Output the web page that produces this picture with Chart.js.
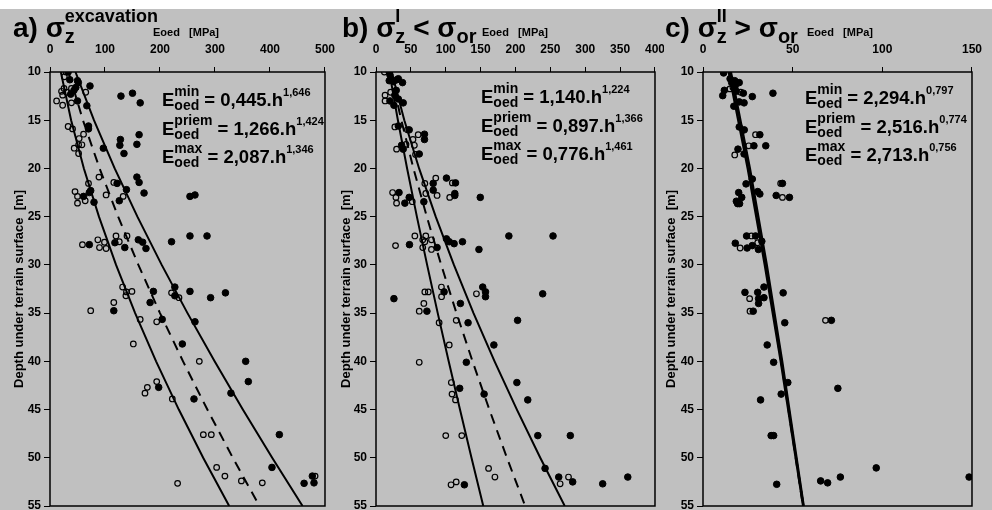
<!DOCTYPE html>
<html>
<head>
<meta charset="utf-8">
<script src="https://cdn.jsdelivr.net/npm/chart.js@4.4.1/dist/chart.umd.min.js"></script>
<style>
  html, body { margin: 0; padding: 0; background: #fff; }
  #page { position: absolute; left: 0; top: 9px; width: 992px; height: 501px; background: #c0c0c0; overflow: hidden; }
  #page canvas { position: absolute; top: 0; }
  #cA { left: 0; }
  #cB { left: 330px; }
  #cC { left: 664px; }
</style>
</head>
<body>
<div id="page">
  <canvas id="cA" width="345" height="520"></canvas>
  <canvas id="cB" width="345" height="520"></canvas>
  <canvas id="cC" width="328" height="520"></canvas>
</div>
<script>
const FONT = "'Liberation Sans', Arial, sans-serif";
Chart.defaults.font.family = FONT;
Chart.defaults.font.weight = 'bold';
Chart.defaults.color = '#000';

// --- Data: [Eoed (MPa), depth (m)] ---
// panel a) sigma_z excavation
const aOpen = [[29,10.0],[26,10.5],[25.5,11.7],[21,12.0],[23,12.4],[30,12.1],[39,11.7],
  [12,13.0],[23,13.45],[39,13.2],[65,12.1],
  [33,15.65],[41,15.9],[61,16.45],[53,16.9],[58,17.55],[52,17.55],[44,17.9],[52,18.45],
  [70,21.55],[89,20.9],[116,21.45],[45.5,22.4],[50,22.9],[50,23.6],[64,23.35],[102,22.75],[133,22.9],
  [87,27.4],[90,28.2],[99,27.65],[102,28.3],[59,27.9],[120,27.0],[126,27.6],[140,27.0],
  [132,32.3],[139,32.8],[138,33.2],[149,32.75],[116,33.9],[74,34.75],[164,35.65],[194,35.9],[221,32.9],[234.5,33.4],
  [151.5,38.2],[271.5,40.0],[194,42.1],[177,42.7],[172.7,43.3],[222.4,43.9],
  [278.8,47.6],[293.3,47.6],[303,51.0],[318,51.9],[348,52.4],[386,52.6],[232,52.65],[482,51.9]];
const aFilled = [[33,10.0],[36,10.8],[50,10.9],[51.5,11.1],[43.6,11.9],[47,11.6],[37.6,12.3],[72.7,11.45],
  [50,13.0],[67,13.5],[129,12.5],[150,12.2],[164,13.2],
  [70,15.6],[70,15.9],[162,16.5],[128,17.0],[127,17.6],[158,17.5],[97,17.9],[134.5,18.45],
  [122,21.55],[158,20.9],[162,21.45],[61,22.9],[71.5,22.5],[74,22.3],[80,23.5],[126,23.35],[139,22.2],[171,22.55],[254.5,22.9],[263.6,22.75],
  [71.5,27.9],[118,27.7],[136,28.2],[160.6,27.4],[168.5,27.65],[174.5,28.3],[221,27.6],[254.5,27.0],[285.5,27.0],
  [188,32.75],[116,34.75],[182,33.9],[204,35.65],[227,32.3],[227,33.2],[254.5,32.75],[292,33.4],[319,32.9],[263.6,35.9],
  [240.6,38.2],[355.8,40.0],[360.6,42.1],[197.6,42.7],[261.8,43.9],[329,43.3],
  [417,47.6],[403.6,51.0],[462,52.65],[477,51.9],[480,52.6]];

// panel b) sigma_z I < sigma_or
const bOpen = [[12,10.0],[13,12.4],[13,13.0],[21,12.1],[27,15.7],[45,16.0],[60.5,16.5],[53,17.0],[43,17.5],[29.5,18.0],[55,17.6],[56.7,18.55],
  [85.7,21.0],[109.5,21.5],[70,21.55],[87.6,22.8],[71.4,22.6],[105.7,23.0],[23.8,22.5],[28.6,23.0],[29.5,23.6],[52,23.45],
  [55.7,27.0],[71.4,27.0],[28,28.0],[67,27.4],[70,27.6],[67,28.2],[79.5,27.4],[79.5,28.4],[93.8,32.3],
  [62,34.8],[68.6,34.0],[70,32.8],[75,32.8],[94,33.3],[90.5,36.0],[115,35.75],[105,38.3],[144,33.0],
  [62,40.1],[108,42.2],[109,43.4],[114,44.0],[100,47.7],[123,47.7],[161.4,51.1],[170.5,52.0],[276,52.0],[264,52.7],[107.6,52.8],[115,52.5]];
const bFilled = [[19,10.0],[20,10.3],[21.5,10.7],[19,10.9],[25,11.0],[30,10.8],[32,10.7],[38,11.1],
  [20,13.0],[25.7,13.45],[27,12.4],[29,11.9],[32,12.8],[39,13.2],
  [32,15.6],[47.6,16.0],[69.5,16.45],[69.5,17.0],[36.7,17.6],[39,18.0],[62,18.5],
  [101,21.0],[82,21.55],[114,21.5],[82,22.25],[113,22.6],[113,22.8],[33,22.5],[41.4,23.6],[47.6,23.0],[68.6,23.45],[149.5,23.0],
  [48,27.9],[87.6,28.2],[101,27.3],[105,27.6],[112,27.8],[124,27.6],[147.6,28.4],[190.5,27.0],[253.8,27.0],[153,32.3],
  [25.7,33.5],[73,34.8],[97.6,32.8],[121,34.0],[132,36.0],[157,32.8],[157,33.3],[239,33.0],[203,35.75],[169,38.3],
  [129.5,40.1],[120,42.8],[155,43.4],[202,42.2],[217.6,44.0],[232,47.7],[278.6,47.7],[242.4,51.1],[262,52.0],[282,52.5],[325,52.7],[361,52.0],[126.7,52.8]];

// panel c) sigma_z II > sigma_or
const cOpen = [[16.7,11.6],[15,11.75],[21,12.1],[29.3,16.5],[25.5,17.65],[17.7,18.6],[43.3,21.55],[44.3,23.0],
  [27,27.0],[30.5,27.7],[20.7,28.25],[26,33.5],[26.2,34.8],[68.3,35.75]];
const cFilled = [[11.5,10.1],[15.1,10.7],[16,11.1],[17.7,10.9],[20.2,11.1],[18,11.4],[11,12.45],[11.9,11.9],[18.6,12.0],[22.5,12.2],[27.5,12.55],[39,12.2],[20.2,13.1],[22.9,13.2],[17.2,13.55],
  [20.2,15.7],[23,16.0],[31.7,16.5],[28.4,17.65],[35,17.65],[19.5,18.0],[22.9,18.5],
  [27.5,21.1],[24,21.6],[44.3,21.55],[19.9,22.5],[21.6,23.0],[18.6,23.4],[19.3,23.65],[20.4,23.65],[30.5,22.4],[31.7,22.65],[40.8,22.8],[48.2,23.0],
  [24.3,27.0],[29.3,27.0],[32.8,27.55],[18,27.75],[24.6,28.25],[27.5,28.0],[30.9,28.4],[34,32.3],
  [23.4,32.85],[30.5,32.85],[31,33.5],[31,34.0],[34,33.4],[44.7,32.9],[28,34.8],[45.6,36.0],[71.6,35.75],
  [35.8,38.3],[39.4,40.1],[47.3,42.2],[75.2,42.8],[43.6,43.4],[32.1,44.0],[38,47.7],[39.4,47.7],
  [96.6,51.05],[76.6,52.0],[65.6,52.4],[69.5,52.6],[41.1,52.75],[148.4,52.0]];

// fitted curves, read along depth
const depths = [10, 15, 20, 25, 30, 35, 40, 45, 50, 55];
const aMin   = [19.7, 38.4, 61.6, 89.0, 120.1, 154.8, 192.9, 234.2, 278.5, 325.8];
const aPriem = [33.6, 59.9, 90.2, 123.9, 160.7, 200.0, 241.9, 286.1, 332.4, 380.8];
const aMax   = [46.3, 79.9, 117.6, 158.9, 203.1, 250.0, 299.3, 350.6, 404.0, 459.2];
const bMin   = [19.1, 31.4, 44.6, 58.6, 73.3, 88.5, 104.2, 120.4, 136.9, 153.8];
const bPriem = [20.8, 36.3, 53.7, 72.8, 93.5, 115.4, 138.4, 162.5, 187.7, 213.9];
const bMax   = [22.4, 40.6, 61.8, 85.6, 111.7, 139.8, 170.0, 202.0, 235.5, 270.6];
const cDepths = [10, 20, 30, 40, 55];
const cMin   = [14.4, 25.0, 34.5, 43.4, 55.9];
const cPriem = [14.95, 25.6, 35.0, 43.7, 55.9];
const cMax   = [15.5, 26.1, 35.5, 44.1, 56.1];

// equation labels: [superscript, coefficient, exponent]
const aEq = [['min', '0,445', '1,646'], ['priem', '1,266', '1,424'], ['max', '2,087', '1,346']];
const bEq = [['min', '1,140', '1,224'], ['priem', '0,897', '1,366'], ['max', '0,776', '1,461']];
const cEq = [['min', '2,294', '0,797'], ['priem', '2,516', '0,774'], ['max', '2,713', '0,756']];

// --- text helpers ---
function txt(ctx, s, x, y, size) {
    ctx.font = 'bold ' + size + 'px ' + FONT;
    ctx.fillText(s, x, y);
    return ctx.measureText(s).width;
}

// a run of text with stacked sub/superscript after it
function run(ctx, r, x, y, sz) {
    x += txt(ctx, r.text, x, y, sz.main);
    let w = 0;
    if (r.sub) w = txt(ctx, r.sub, x, y + sz.subDy, sz.sub);
    if (r.sup) w = Math.max(w, txt(ctx, r.sup, x, y + (r.supDy || sz.supDy), r.supSize || sz.sup));
    return x + w;
}

const titleSize = { main: 28, sub: 20, subDy: 6, sup: 18, supDy: -15 };
const eqSize = { main: 18.5, sub: 14, subDy: 4, sup: 14, supDy: -10 };

const panelText = {
    id: 'panelText',
    beforeDraw(chart, args, o) {
        if (!o.opaque) return;
        const ctx = chart.ctx;
        ctx.save();
        ctx.fillStyle = '#c0c0c0';
        ctx.fillRect(0, 0, chart.width, chart.height);
        ctx.restore();
    },
    afterDatasetsDraw(chart) {
        const { ctx, chartArea: a } = chart;
        ctx.save();
        ctx.strokeStyle = '#000';
        ctx.lineWidth = 1.5;
        ctx.strokeRect(a.left, a.top, a.right - a.left, a.bottom - a.top);
        ctx.restore();
    },
    afterDraw(chart, args, o) {
        const ctx = chart.ctx;
        ctx.save();
        ctx.fillStyle = '#000';
        ctx.textAlign = 'left';
        ctx.textBaseline = 'alphabetic';
        let x = o.titleX;
        o.title.forEach(r => { x = run(ctx, r, x, 28, titleSize); });
        txt(ctx, 'Eoed   [MPa]', o.unitX, 27, 11);
        o.eq.forEach((e, i) => {
            const y = o.eqY + i * 28.5;
            let ex = run(ctx, { text: 'E', sub: 'oed', sup: e[0] }, o.eqX, y, eqSize);
            run(ctx, { text: ' = ' + e[1] + '.h', sup: e[2], supSize: 11, supDy: -10 }, ex, y, eqSize);
        });
        ctx.restore();
    }
};

const pts = arr => arr.map(p => ({ x: p[0], y: p[1] }));
const curve = (ys, vs) => ys.map((y, i) => ({ x: vs[i], y: y }));

function makePanel(id, o) {
    const lines = o.curves.map((c, i) => ({
        data: curve(o.cDepth, c),
        showLine: true,
        borderColor: '#000',
        borderWidth: o.lineW,
        borderDash: i === 1 ? [10, 7] : [],
        pointRadius: 0,
        fill: false,
        tension: 0
    }));
    return new Chart(document.getElementById(id), {
        type: 'scatter',
        data: {
            datasets: [
                { data: pts(o.filled), pointRadius: 3.3, backgroundColor: '#000', borderColor: '#000', borderWidth: 1 },
                { data: pts(o.open), pointRadius: 2.8, backgroundColor: 'rgba(0,0,0,0)', borderColor: '#000', borderWidth: 1.2 },
                ...lines
            ]
        },
        options: {
            responsive: false,
            animation: false,
            layout: { autoPadding: false, padding: { left: 0, right: o.padRight, top: 0, bottom: 23 } },
            plugins: {
                legend: { display: false },
                tooltip: { enabled: false },
                panelText: o.text
            },
            scales: {
                x: {
                    type: 'linear', position: 'top', min: 0, max: o.xMax,
                    ticks: { stepSize: o.xStep, padding: 10, maxRotation: 0, autoSkip: false, font: { size: 12, weight: 'bold' } },
                    grid: { display: true, drawOnChartArea: false, drawTicks: true, tickLength: 5, color: '#000' },
                    border: { display: false },
                    afterFit: s => { s.height = 63; }
                },
                y: {
                    type: 'linear', reverse: true, min: 10, max: 55,
                    ticks: { stepSize: 5, padding: 3, font: { size: 12, weight: 'bold' } },
                    grid: { display: true, drawOnChartArea: false, drawTicks: true, tickLength: 6, color: '#000' },
                    border: { display: false },
                    title: { display: true, text: 'Depth under terrain surface  [m]', font: { size: 13, weight: 'bold' }, padding: { top: o.yTitlePad, bottom: 0 } },
                    afterFit: s => { s.width = o.plotLeft; }
                }
            }
        },
        plugins: [panelText]
    });
}

makePanel('cA', {
    open: aOpen, filled: aFilled, cDepth: depths, curves: [aMin, aPriem, aMax], lineW: 2,
    xMax: 500, xStep: 100, plotLeft: 50, padRight: 20, yTitlePad: 12,
    text: { titleX: 13, unitX: 153, eqX: 162, eqY: 97, eq: aEq,
        title: [{ text: 'a) σ', sub: 'z', sup: 'excavation' }] }
});

makePanel('cB', {
    open: bOpen, filled: bFilled, cDepth: depths, curves: [bMin, bPriem, bMax], lineW: 2,
    xMax: 400, xStep: 50, plotLeft: 46, padRight: 19, yTitlePad: 9,
    text: { titleX: 12, unitX: 152, eqX: 151, eqY: 94, eq: bEq,
        title: [{ text: 'b) σ', sub: 'z', sup: 'I' }, { text: ' < σ', sub: 'or' }] }
});

makePanel('cC', {
    open: cOpen, filled: cFilled, cDepth: cDepths, curves: [cMin, cPriem, cMax], lineW: 2.5,
    xMax: 150, xStep: 50, plotLeft: 39, padRight: 7, yTitlePad: 0,
    text: { titleX: 1, unitX: 143, eqX: 141, eqY: 95, eq: cEq, opaque: true,
        title: [{ text: 'c) σ', sub: 'z', sup: 'II' }, { text: ' > σ', sub: 'or' }] }
});
</script>
</body>
</html>
